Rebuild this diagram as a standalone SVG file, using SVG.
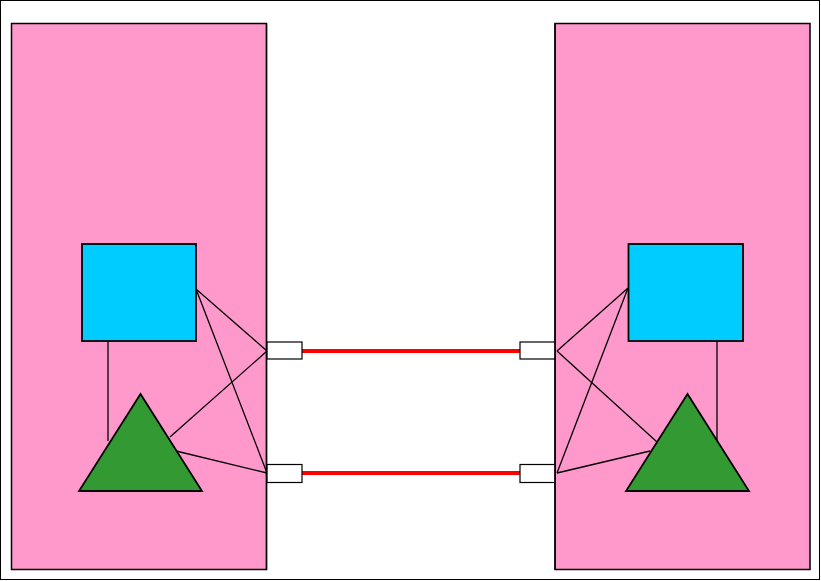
<svg xmlns="http://www.w3.org/2000/svg" width="821" height="581" viewBox="0 0 821 581">
<style>
.panel{fill:#ff99cc;stroke:#000;stroke-width:1.5}
.box{fill:#00ccff;stroke:#000;stroke-width:1.8}
.tri{fill:#339933;stroke:#000;stroke-width:1.8;stroke-linejoin:miter}
.port{fill:#fff;stroke:#000;stroke-width:1.2}
.ln{stroke:#000;stroke-width:1.3;fill:none}
.red{stroke:#ff0000;stroke-width:4;stroke-linecap:round;fill:none}
</style>
<rect x="0.5" y="0.5" width="819" height="579" fill="#fff" stroke="#000" stroke-width="1"/>
<g id="left-panel"><rect class="panel" x="11.5" y="23.5" width="255" height="546"/></g>
<g id="right-panel"><rect class="panel" x="555" y="23.5" width="255" height="546"/></g>
<g id="connectors">
<line class="ln" x1="108" y1="341" x2="108" y2="441"/>
<line class="ln" x1="196" y1="289" x2="267" y2="351"/>
<line class="ln" x1="196" y1="289" x2="267" y2="473"/>
<line class="ln" x1="170" y1="437" x2="267" y2="351"/>
<line class="ln" x1="176" y1="451" x2="267" y2="473"/>
<line class="ln" x1="717" y1="341" x2="717" y2="441"/>
<line class="ln" x1="628" y1="288" x2="557" y2="351"/>
<line class="ln" x1="628" y1="288" x2="557" y2="473"/>
<line class="ln" x1="657" y1="442" x2="557" y2="351"/>
<line class="ln" x1="650" y1="451" x2="557" y2="473"/>
<line class="red" x1="301" y1="351" x2="522" y2="351"/>
<line class="red" x1="301" y1="473" x2="522" y2="473"/>
</g>
<g id="left-box"><rect class="box" x="82" y="244" width="114" height="97"/></g>
<g id="right-box"><rect class="box" x="628.5" y="244" width="114.5" height="97"/></g>
<g id="left-tri"><polygon class="tri" points="140.5,394 79,491 202,491"/></g>
<g id="right-tri"><polygon class="tri" points="687.5,394 626,491 749,491"/></g>
<g id="left-port-1"><rect class="port" x="267" y="342" width="35" height="17"/></g>
<g id="left-port-2"><rect class="port" x="267" y="464.5" width="35" height="18"/></g>
<g id="right-port-1"><rect class="port" x="520" y="342" width="35" height="17"/></g>
<g id="right-port-2"><rect class="port" x="520" y="464.5" width="35" height="18"/></g>
<line class="ln" x1="266.5" y1="23.5" x2="266.5" y2="569.5" stroke-width="2"/>
<line class="ln" x1="555" y1="23.5" x2="555" y2="569.5" stroke-width="2"/>
</svg>
